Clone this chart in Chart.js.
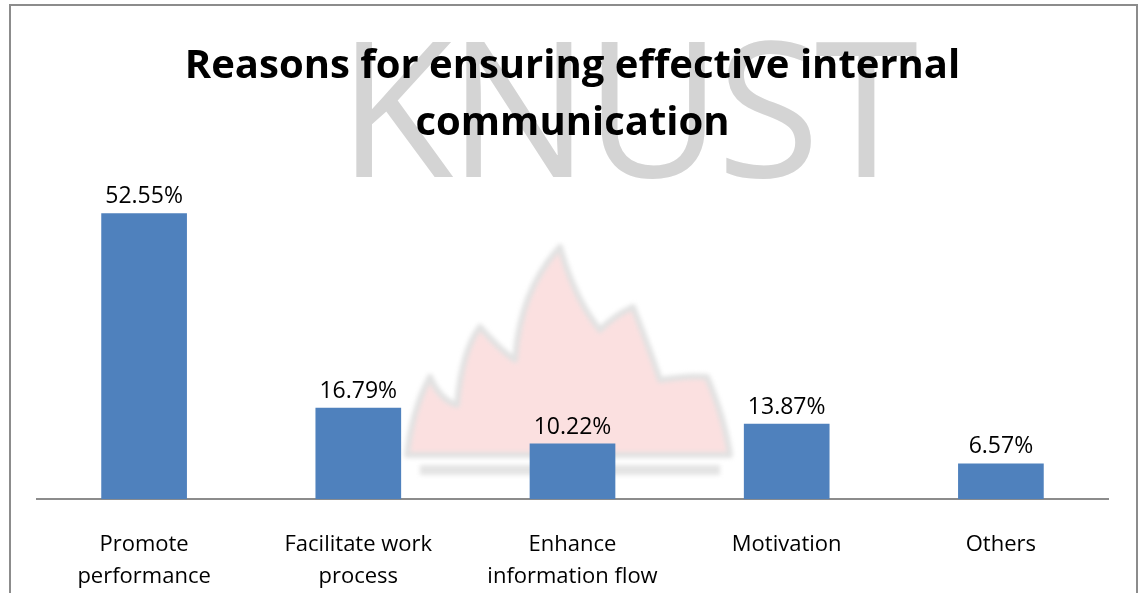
<!DOCTYPE html>
<html>
<head>
<meta charset="utf-8">
<script src="https://cdn.jsdelivr.net/npm/chart.js@4"></script>
<style>
  html, body { margin: 0; padding: 0; background: #fff; overflow: hidden; }
  #wrap { position: relative; width: 1138px; height: 593px; overflow: hidden; }
  #frame { position: absolute; left: 9px; top: 4px; width: 1125px; height: 640px; border: 2px solid #8c8c8c; }
  #mark { position: absolute; left: 338px; top: 10px; font-family: "Open Sans", sans-serif; font-weight: 400;
          font-size: 188px; line-height: 1; color: #d4d4d4; letter-spacing: -5px; }
  #flame { position: absolute; left: 0; top: 0; filter: blur(2px); }
  #box { position: absolute; left: 0; top: 0; width: 1138px; height: 653px; }
</style>
</head>
<body>
<div id="wrap">
  <div id="frame"></div>
  <div id="mark">KNUST</div>
  <svg id="flame" width="1138" height="593">
    <path d="M407,455 Q412,410 430,377 Q440,400 457,405 Q462,350 480,327 Q500,350 515,360 Q520,290 560,247 Q575,300 600,330 Q615,315 633,307 Q650,350 660,380 Q690,375 707,377 Q725,420 730,455 Z"
          fill="rgba(242,160,160,0.32)" stroke="#e2e2e2" stroke-width="6" stroke-linejoin="round"/>
    <path d="M420,470 L720,470" stroke="#e4e4e4" stroke-width="10"/>
  </svg>
  <div id="box"><canvas id="barChart"></canvas></div>
</div>
<script>
// chart values
var categories = [
  ['Promote', 'performance'],
  ['Facilitate work', 'process'],
  ['Enhance', 'information flow'],
  'Motivation',
  'Others'
];
var percents = [52.55, 16.79, 10.22, 13.87, 6.57];
var chartTitle = ['Reasons for ensuring effective internal', 'communication'];

// draws the % label over every bar
var valueLabels = {
  id: 'valueLabels',
  afterDatasetsDraw: function(chart) {
    var ctx = chart.ctx;
    var meta = chart.getDatasetMeta(0);
    ctx.save();
    ctx.font = '23px "Open Sans", sans-serif';
    ctx.fillStyle = '#000';
    ctx.textAlign = 'center';
    ctx.textBaseline = 'alphabetic';
    meta.data.forEach(function(bar, i) {
      ctx.fillText(percents[i].toFixed(2) + '%', bar.x, bar.y - 10);
    });
    ctx.restore();
  }
};

var barconfig = {
  type: 'bar',
  data: {
    labels: categories,
    datasets: [{
      data: percents,
      backgroundColor: '#4F81BD',
      barPercentage: 0.4,
      categoryPercentage: 1.0
    }]
  },
  options: {
    responsive: true,
    maintainAspectRatio: false,
    animation: false,
    layout: { padding: { left: 37, right: 30, top: 0, bottom: 30 } },
    plugins: {
      legend: { display: false },
      tooltip: { enabled: false },
      title: {
        display: true,
        text: chartTitle,
        color: '#000',
        font: { family: '"Open Sans", sans-serif', size: 40, weight: 'bold', lineHeight: 1.42 },
        padding: { top: 38, bottom: 21 }
      }
    },
    scales: {
      x: {
        grid: { display: false, drawTicks: false },
        border: { display: true, color: '#8c8c8c', width: 2 },
        ticks: {
          color: '#000',
          font: { family: '"Open Sans", sans-serif', size: 22, lineHeight: 1.45 },
          padding: 30,
          maxRotation: 0,
          autoSkip: false
        }
      },
      y: {
        display: false,
        min: 0,
        max: 60
      }
    }
  },
  plugins: [valueLabels]
};

var barchart = new Chart(document.getElementById('barChart'), barconfig);
</script>
</body>
</html>
